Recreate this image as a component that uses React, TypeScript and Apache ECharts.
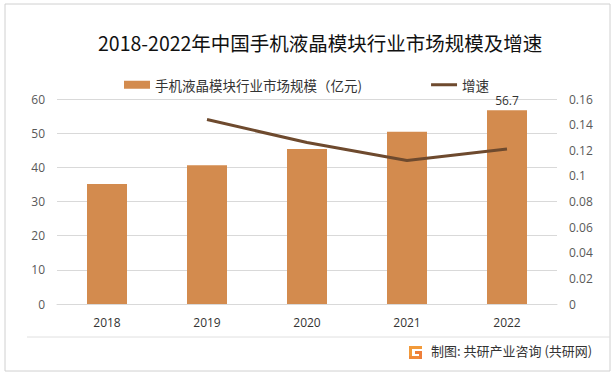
import React, { useEffect, useRef } from "react";
import * as echarts from "echarts";

const categories = ["2018", "2019", "2020", "2021", "2022"];
const marketSize = [35.1, 40.6, 45.4, 50.4, 56.7];
const growth = [null, 0.144, 0.126, 0.112, 0.121];
const leftTicks = [0, 10, 20, 30, 40, 50, 60];
const rightTicks = [0, 0.02, 0.04, 0.06, 0.08, 0.1, 0.12, 0.14, 0.16];

export default function App() {
  const ref = useRef<HTMLDivElement>(null);
  useEffect(() => {
    const chart = echarts.init(ref.current!, null, { renderer: "svg" });
    const font = "'Noto Sans CJK SC', 'Noto Sans', sans-serif";
    const numFont = "'Open Sans', 'Noto Sans', sans-serif";
    chart.setOption({
      animation: false,
      backgroundColor: "#ffffff",
      textStyle: { fontFamily: font },
      title: {
        text: "2018-2022年中国手机液晶模块行业市场规模及增速",
        left: 93,
        top: 28,
        textStyle: { fontSize: 19.5, fontWeight: "normal", color: "#111", fontFamily: font },
      },
      legend: {
        top: 73,
        left: 119,
        itemGap: 69,
        itemWidth: 26,
        itemHeight: 8,
        itemStyle: {},
        textStyle: { fontSize: 13.5, color: "#333", fontFamily: font },
        data: [
          { name: "手机液晶模块行业市场规模（亿元)", icon: "rect" },
          {
            name: "增速",
            icon: "path://M0,0h0.01v0.01h-0.01zM0,2.6h26v2.8h-26zM0,8h0.01v0.01h-0.01z",
          },
        ],
      },
      grid: { left: 57, right: 58, top: 99, bottom: 71 },
      xAxis: {
        type: "category",
        data: categories,
        axisLine: { lineStyle: { color: "#d9d9d9" } },
        axisTick: { show: false },
        axisLabel: { color: "#333", fontSize: 12, margin: 12, fontFamily: numFont },
      },
      yAxis: [
        {
          type: "value",
          min: leftTicks[0],
          max: leftTicks[leftTicks.length - 1],
          interval: 10,
          axisLine: { show: false },
          axisTick: { show: false },
          axisLabel: { color: "#595959", fontSize: 12, margin: 12, fontFamily: numFont },
          splitLine: { lineStyle: { color: "#d9d9d9" } },
        },
        {
          type: "value",
          min: rightTicks[0],
          max: rightTicks[rightTicks.length - 1],
          interval: 0.02,
          axisLine: { show: false },
          axisTick: { show: false },
          splitLine: { show: false },
          axisLabel: { color: "#595959", fontSize: 12, margin: 12, fontFamily: numFont },
        },
      ],
      series: [
        {
          name: "手机液晶模块行业市场规模（亿元)",
          type: "bar",
          data: marketSize.map((v, i) =>
            i === marketSize.length - 1
              ? { value: v, label: { show: true, position: "top", color: "#333", fontSize: 12, distance: 4, fontFamily: numFont } }
              : v
          ),
          barWidth: 40,
          itemStyle: { color: "#d38b4e" },
        },
        {
          name: "增速",
          type: "line",
          yAxisIndex: 1,
          data: growth,
          symbol: "none",
          lineStyle: { color: "#6e4a2e", width: 3 },
          itemStyle: { color: "#6e4a2e" },
        },
      ],
      graphic: [
        { type: "rect", shape: { x: 5, y: 4, width: 605, height: 367 }, style: { fill: "none", stroke: "#d0d0d0", lineWidth: 1 }, silent: true },
        { type: "line", shape: { x1: 27, y1: 337, x2: 610, y2: 337 }, style: { stroke: "#e0e0e0", lineWidth: 1 } },
        {
          type: "group",
          left: 409,
          top: 346,
          children: [
            { type: "rect", shape: { x: 0, y: 0, width: 13, height: 3 }, style: { fill: "#f29a3a" } },
            { type: "rect", shape: { x: 0, y: 0, width: 3, height: 13 }, style: { fill: "#f29a3a" } },
            { type: "rect", shape: { x: 0, y: 10, width: 13, height: 3 }, style: { fill: "#f08a3a" } },
            { type: "rect", shape: { x: 6, y: 5, width: 7, height: 3 }, style: { fill: "#ee7f3a" } },
            { type: "rect", shape: { x: 10, y: 5, width: 3, height: 8 }, style: { fill: "#ee7f3a" } },
          ],
        },
        {
          type: "text",
          left: 431,
          top: 344,
          style: { text: "制图: 共研产业咨询 (共研网)", fontSize: 13, fill: "#333", fontFamily: font },
        },
      ],
    });
    return () => chart.dispose();
  }, []);
  return <div ref={ref} style={{ position: "absolute", left: 0, top: 0, width: 615, height: 375 }} />;
}
